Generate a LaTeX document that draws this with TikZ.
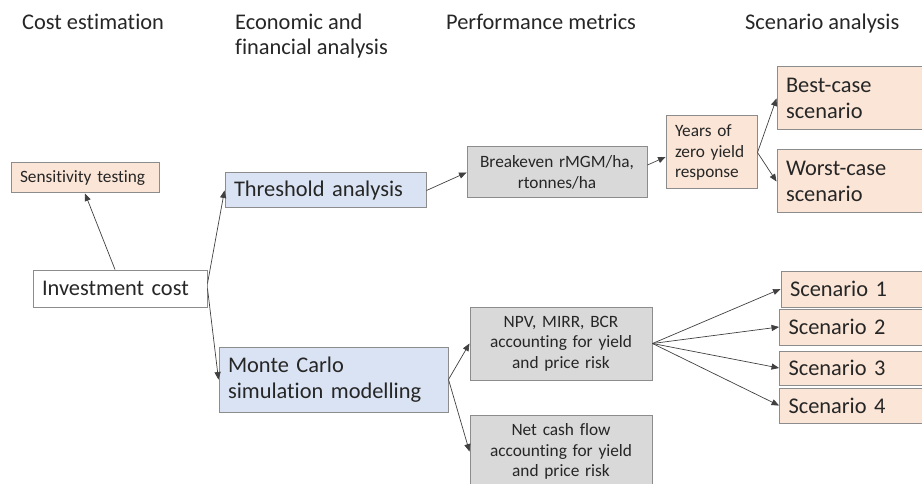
\documentclass[tikz,border=0pt]{standalone}
\usepackage{fontspec}
\setmainfont[Ligatures=NoCommon]{Carlito}
\usepackage{xcolor}
\usepackage{tikz}
\usetikzlibrary{positioning,arrows}

\definecolor{peach}{HTML}{FBE5D6}
\definecolor{paleblue}{HTML}{DAE3F3}
\definecolor{palegray}{HTML}{D9D9D9}
\definecolor{boxline}{HTML}{8C8C8C}
\definecolor{txt}{HTML}{262626}

\begin{document}
\begin{tikzpicture}[x=1pt,y=-1pt]
\tikzstyle{tarrow}=[draw=black!75,line width=0.7pt,-triangle 45]
\tikzstyle{pbox}=[draw=boxline,line width=1pt,inner xsep=9pt,inner ysep=0pt,text=txt]
\tikzstyle{big}=[font=\fontsize{22.4}{25.5}\selectfont]
\tikzstyle{small}=[font=\fontsize{17.3}{20.5}\selectfont]
\tikzstyle{hdr}=[big,text=txt,inner sep=0pt,anchor=base west,align=left]

\useasboundingbox (0,0) rectangle (922,484);

% column headings
\node[hdr] (h1) at (22,30) {Cost estimation};
\node[hdr] (h2) at (235,55) {Economic and\\financial analysis};
\node[hdr] (h3) at (446,30) {Performance metrics};
\node[hdr] (h4) at (745,30) {Scenario analysis};

% boxes
\node[pbox,small,fill=peach,minimum width=148pt,minimum height=30pt,text width=130pt,align=left] (sens) at (85,178) {Sensitivity testing};
\node[pbox,big,fill=white,minimum width=174pt,minimum height=37pt,text width=156pt,align=left] (inv) at (120,288.5) {Investment cost};
\node[pbox,big,fill=paleblue,minimum width=201pt,minimum height=35pt,text width=183pt,align=left] (thr) at (325.5,190.5) {Threshold analysis};
\node[pbox,big,fill=paleblue,minimum width=229pt,minimum height=65pt,text width=211pt,align=left] (mc) at (333.5,379.5) {Monte Carlo\\simulation modelling};
\node[pbox,small,fill=palegray,minimum width=180pt,minimum height=51pt,text width=162pt,align=center] (brk) at (557,172.5) {Breakeven rMGM/ha,\\rtonnes/ha};
\node[pbox,small,fill=peach,minimum width=91pt,minimum height=73pt,text width=73pt,align=left] (yrs) at (711.5,152.5) {Years of\\zero yield\\response};
\node[pbox,big,fill=peach,minimum width=163pt,minimum height=63pt,text width=145pt,align=left] (best) at (858.5,98.5) {Best-case\\scenario};
\node[pbox,big,fill=peach,minimum width=163pt,minimum height=63pt,text width=145pt,align=left] (worst) at (858.5,181.5) {Worst-case\\scenario};
\node[pbox,small,fill=palegray,minimum width=182pt,minimum height=73pt,text width=164pt,align=center] (npv) at (561,343.5) {NPV, MIRR, BCR\\accounting for yield\\and price risk};
\node[pbox,small,fill=palegray,minimum width=182pt,minimum height=73pt,text width=164pt,align=center] (ncf) at (561,451.5) {Net cash flow\\accounting for yield\\and price risk};
\foreach \i/\xc/\yc/\h in {1/861/289/36,2/859.5/327/36,3/859.5/368/34,4/859.5/405.5/35}
{
    \node[pbox,big,fill=peach,minimum width=160pt,minimum height=\h pt,text width=142pt,align=left] (sc\i) at (\xc,\yc) {Scenario \i};
}

% connectors
\draw[tarrow] ([xshift=-5pt]inv.north) -- (sens.south);
\draw[tarrow] ([yshift=5pt]inv.east) -- (thr.west);
\draw[tarrow] (inv.east) -- (mc.west);
\draw[tarrow] (thr.east) -- (brk.west);
\draw[tarrow] ([yshift=7.5pt]brk.east) -- ([yshift=-4.5pt]yrs.west);
\draw[tarrow] (yrs.east) -- (best.west);
\draw[tarrow] (yrs.east) -- (worst.west);
\draw[tarrow] (mc.east) -- (npv.west);
\draw[tarrow] (mc.east) -- (ncf.west);
\foreach \i in {1,...,4}
{
    \draw[tarrow] (npv.east) -- (sc\i.west);
}
\end{tikzpicture}
\end{document}
